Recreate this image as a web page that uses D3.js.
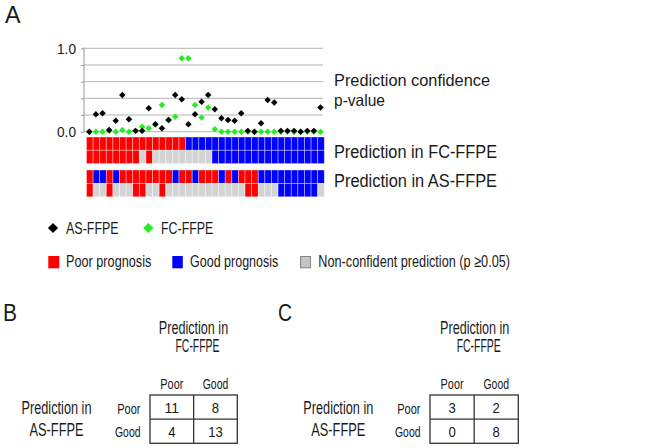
<!DOCTYPE html>
<html><head><meta charset="utf-8">
<script src="https://cdn.jsdelivr.net/npm/d3@7"></script>
<style>
html,body{margin:0;padding:0;background:#fff;}
svg{display:block;font-family:"Liberation Sans",Arial,sans-serif;}
</style></head>
<body>
<svg id="chart" width="670" height="448"></svg>
<script>
// ---------- DATA ----------
const samples = d3.range(1, 37);
const asPValue = [0.00,0.21,0.22,0.02,0.13,0.44,0.15,0.01,0.01,0.28,0.09,0.04,0.14,0.44,0.39,0.09,0.21,0.36,
                  0.44,0.27,0.16,0.14,0.13,0.22,0.01,0.00,0.10,0.38,0.35,0.01,0.01,0.01,0.00,0.01,0.01,0.29];
const fcPValue = [0.00,0.00,0.00,0.01,0.00,0.02,0.00,0.01,0.06,0.04,0.09,0.32,0.14,0.18,0.88,0.88,0.32,0.17,
                  0.29,0.03,0.00,0.00,0.00,0.00,0.00,0.00,0.00,0.00,0.00,0.00,0.00,0.00,0.00,0.00,0.00,0.00];
const fcClass = ["P","P","P","P","P","P","P","P","P","P","P","P","P","P","P",
                 "G","G","G","G","G","G","G","G","G","G","G","G","G","G","G","G","G","G","G","G","G"];
const asClass = ["P","G","G","P","G","P","P","P","P","P","P","P","P","G","P","P","G","P",
                 "P","P","G","P","G","P","P","P","G","G","G","G","G","G","G","G","G","G"];
const pThreshold = 0.05;
const yTicks = [0, 0.2, 0.4, 0.6, 0.8, 1.0];
const tableRows = ["Poor", "Good"];
const tableCols = ["Poor", "Good"];
const tableB = [[11, 8], [4, 13]];
const tableC = [[3, 2], [0, 8]];

// ---------- STYLE ----------
const RED = "#ff0000", BLUE = "#0000ff", GREY = "#d4d4d4", INK = "#1a1a1a";
const svg = d3.select("#chart");

function txt(g, x, y, s, size, anchor, w) {
  const t = g.append("text").attr("x", x).attr("y", y)
    .attr("font-size", size).attr("fill", INK)
    .attr("text-anchor", anchor || "start").text(s);
  if (w) t.attr("textLength", w).attr("lengthAdjust", "spacingAndGlyphs");
  return t;
}

// ---------- PANEL A ----------
const A = svg.append("g");
txt(A, 5, 23, "A", 24, "start", 15.5);

const x = d3.scaleBand().domain(samples).range([86.5, 324.3]);
const y = d3.scaleLinear().domain([0, 1]).range([131.7, 48.3]);

// gridlines
A.append("g").selectAll("line").data(yTicks).join("line")
  .attr("x1", 84).attr("x2", 323).attr("y1", d => y(d)).attr("y2", d => y(d))
  .attr("stroke", "#b4b4b4").attr("stroke-width", 1);

// y axis
const yAxis = A.append("g").attr("transform", "translate(84,0)")
  .call(d3.axisLeft(y).tickValues(yTicks).tickSize(3).tickPadding(5)
    .tickFormat(d => (d === 0 || d === 1) ? d3.format(".1f")(d) : ""));
yAxis.select(".domain").attr("stroke", "#9a9a9a").attr("d", "M0,47.5V132.5");
yAxis.selectAll(".tick line").attr("stroke", "#9a9a9a");
yAxis.selectAll(".tick text").attr("font-size", 15.5).attr("fill", INK)
  .attr("font-family", "Liberation Sans, Arial, sans-serif")
  .attr("textLength", 19).attr("lengthAdjust", "spacingAndGlyphs");

// dots: green first, black on top
const diamond = d3.symbol().type(d3.symbolSquare).size(21);
A.append("g").selectAll("path").data(samples).join("path")
  .attr("d", diamond)
  .attr("transform", (d, i) => `translate(${x(d) + x.bandwidth() / 2 - 0.5},${y(fcPValue[i])}) rotate(45)`)
  .attr("fill", "#22ee22");
A.append("g").selectAll("path").data(samples).join("path")
  .attr("d", diamond)
  .attr("transform", (d, i) => `translate(${x(d) + x.bandwidth() / 2 - 0.5},${y(asPValue[i])}) rotate(45)`)
  .attr("fill", "#000");

// heatmap rows
const colorOf = c => c === "P" ? RED : BLUE;
const rows = [
  { y: 137.0, h: 13.3, fill: (i) => colorOf(fcClass[i]) },
  { y: 150.3, h: 13.3, fill: (i) => fcPValue[i] < pThreshold ? colorOf(fcClass[i]) : GREY },
  { y: 170.0, h: 13.4, fill: (i) => colorOf(asClass[i]) },
  { y: 183.4, h: 13.4, fill: (i) => asPValue[i] < pThreshold ? colorOf(asClass[i]) : GREY }
];
rows.forEach(r => {
  A.append("g").selectAll("rect").data(samples).join("rect")
    .attr("x", d => x(d)).attr("y", r.y)
    .attr("width", x.bandwidth()).attr("height", r.h)
    .attr("fill", (d, i) => r.fill(i))
    .attr("stroke", "rgba(255,255,255,0.45)").attr("stroke-width", 0.8);
});

// right labels
txt(A, 334, 86, "Prediction confidence", 16.5, "start", 156);
txt(A, 334, 105.5, "p-value", 16.5, "start", 51);
txt(A, 334, 158, "Prediction in FC-FFPE", 18, "start", 163);
txt(A, 334, 187, "Prediction in AS-FFPE", 18, "start", 163);

// legend
const bigDiamond = d3.symbol().type(d3.symbolSquare).size(52);
A.append("path").attr("d", bigDiamond).attr("transform", "translate(53,228) rotate(45)").attr("fill", "#000");
txt(A, 66, 233.5, "AS-FFPE", 16.5, "start", 52.7);
A.append("path").attr("d", bigDiamond).attr("transform", "translate(148.3,228) rotate(45)").attr("fill", "#22ee22");
txt(A, 161, 233.5, "FC-FFPE", 16.5, "start", 52.3);

A.append("rect").attr("x", 48.3).attr("y", 256).attr("width", 11).attr("height", 12.3).attr("fill", RED);
txt(A, 66, 267, "Poor prognosis", 16.5, "start", 85.3);
A.append("rect").attr("x", 172.3).attr("y", 256).attr("width", 10.5).attr("height", 12.3).attr("fill", BLUE);
txt(A, 190, 267, "Good prognosis", 16.5, "start", 88.3);
A.append("rect").attr("x", 300.5).attr("y", 256.5).attr("width", 10).attr("height", 11.3)
  .attr("fill", "#c4c4c4").attr("stroke", "#858585").attr("stroke-width", 1);
txt(A, 318.3, 267, "Non-confident prediction (p \u22650.05)", 16.5, "start", 191.7);

// ---------- PANELS B & C ----------
function panel(cfg, data) {
  const g = svg.append("g");
  txt(g, cfg.letterX, 321, cfg.letter, 23, "start", 14);
  const tx = d3.scaleBand().domain(tableCols).range([cfg.x0, cfg.x1]);
  const ty = d3.scaleBand().domain(tableRows).range([395, 443.3]);
  txt(g, cfg.headCx, 333.5, "Prediction in", 17.5, "middle", 69.3);
  txt(g, cfg.headCx + 4, 352, "FC-FFPE", 17.5, "middle", 44);
  txt(g, cfg.sideCx, 413.5, "Prediction in", 17.5, "middle", 70);
  txt(g, cfg.sideCx, 435.5, "AS-FFPE", 17.5, "middle", 54);
  tableCols.forEach(c => txt(g, tx(c) + tx.bandwidth() / 2, 388.5, c, 15.5, "middle", c === "Poor" ? 23 : 25.6));
  tableRows.forEach((r, ri) => txt(g, cfg.x0 - 9.5, ri === 0 ? 413.5 : 437, r, 15.5, "end", r === "Poor" ? 23.3 : 25.5));
  // grid
  g.append("rect").attr("x", cfg.x0).attr("y", 395).attr("width", cfg.x1 - cfg.x0).attr("height", 48.3)
    .attr("fill", "none").attr("stroke", "#333").attr("stroke-width", 1.3);
  g.append("line").attr("x1", tx("Good")).attr("x2", tx("Good")).attr("y1", 395).attr("y2", 443.3)
    .attr("stroke", "#333").attr("stroke-width", 1.3);
  g.append("line").attr("x1", cfg.x0).attr("x2", cfg.x1).attr("y1", ty("Good")).attr("y2", ty("Good"))
    .attr("stroke", "#333").attr("stroke-width", 1.3);
  tableRows.forEach((r, ri) => tableCols.forEach((c, ci) => {
    const s = String(data[ri][ci]);
    txt(g, tx(c) + tx.bandwidth() / 2, ty(r) + ty.bandwidth() / 2 + 5.6, s, 15.5, "middle", s.length * 7.3);
  }));
}
panel({ letter: "B", letterX: 3, x0: 150, x1: 237.3, headCx: 193.5, sideCx: 56.5 }, tableB);
panel({ letter: "C", letterX: 278, x0: 430, x1: 518.3, headCx: 474.7, sideCx: 338.3 }, tableC);
</script>
</body></html>
